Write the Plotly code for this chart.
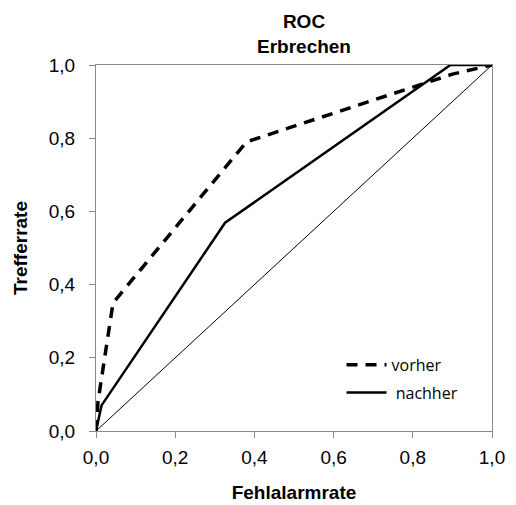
import plotly.graph_objects as go

# Data
vorher_x = [0.0, 0.005, 0.043, 0.38, 0.90, 1.0]
vorher_y = [0.0, 0.08, 0.35, 0.79, 0.975, 1.0]
nachher_x = [0.0, 0.014, 0.326, 0.895, 1.0]
nachher_y = [0.0, 0.07, 0.569, 1.0, 1.0]
diag_x = [0.0, 1.0]
diag_y = [0.0, 1.0]
tick_vals = [0.0, 0.2, 0.4, 0.6, 0.8, 1.0]

FONT = "Liberation Sans, Arial"

fig = go.Figure()
fig.add_trace(go.Scatter(x=diag_x, y=diag_y, mode="lines",
                         line=dict(color="black", width=1), showlegend=False,
                         hoverinfo="skip"))
fig.add_trace(go.Scatter(x=vorher_x, y=vorher_y, mode="lines", name="vorher",
                         legendgroup="a",
                         line=dict(color="black", width=3.5, dash="11px,8px")))
fig.add_trace(go.Scatter(x=nachher_x, y=nachher_y, mode="lines", name=" nachher",
                         legendgroup="b",
                         line=dict(color="black", width=2.5)))

axis_common = dict(range=[0, 1], tickvals=tick_vals, tickformat=".1f",
                   showgrid=False, zeroline=False, showline=True,
                   linecolor="#888888", linewidth=1, mirror=True,
                   ticks="outside", ticklen=6, tickcolor="#888888",
                   automargin=False,
                   tickfont=dict(family=FONT, size=19, color="black"))

fig.update_layout(
    width=516, height=505,
    margin=dict(l=96, r=24, t=65, b=74),
    paper_bgcolor="white", plot_bgcolor="white",
    separators=", ",
    xaxis=dict(title=dict(text="<b>Fehlalarmrate</b>", standoff=18,
                          font=dict(family=FONT, size=19, color="black")),
               ticklabelstandoff=3,
               **axis_common),
    yaxis=dict(title=dict(text="<b>Trefferrate</b>", standoff=16,
                          font=dict(family=FONT, size=19, color="black")),
               ticklabelstandoff=10,
               **axis_common),
    legend=dict(x=0.62, y=0.227, xanchor="left", yanchor="top",
                bgcolor="rgba(0,0,0,0)",
                font=dict(family="Open Sans, Noto Sans", size=16, color="black"),
                itemwidth=40, traceorder="grouped", tracegroupgap=4),
    annotations=[dict(text="<b>ROC<br>Erbrechen</b>", xref="paper", yref="paper",
                      x=0.525, y=1, xanchor="center", yanchor="bottom", yshift=6,
                      showarrow=False,
                      font=dict(family=FONT, size=19, color="black"))],
)

fig.write_html("out.html")
